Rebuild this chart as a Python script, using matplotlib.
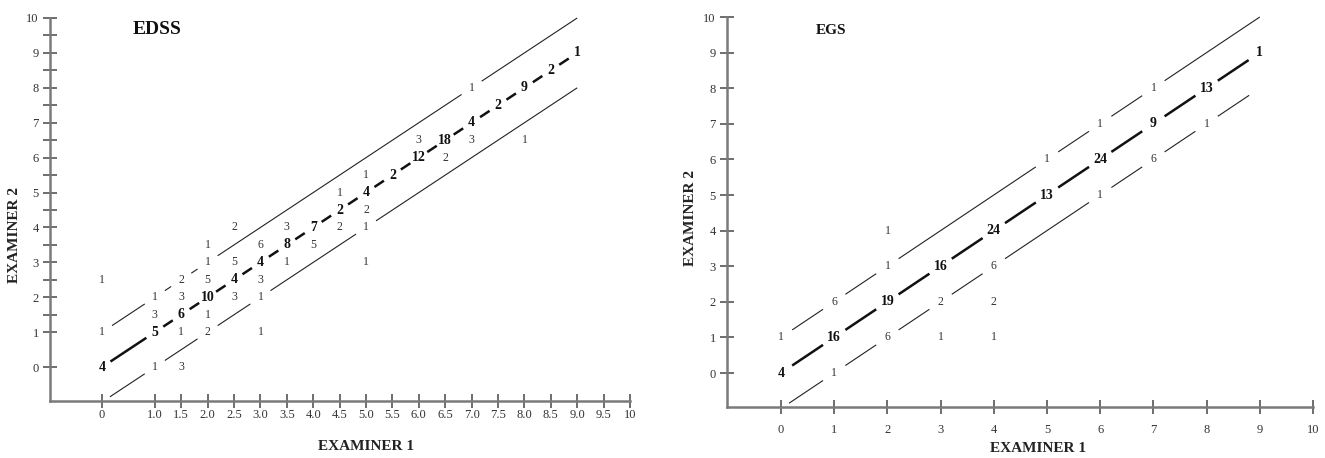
import matplotlib
matplotlib.use("Agg")
import matplotlib.pyplot as plt

plt.rcParams['font.family'] = ['Liberation Serif', 'DejaVu Serif']

# ---------------- data ----------------
# EDSS: (examiner 1 score, examiner 2 score, number of patients)
edss_x = [0, 0, 0,
          1, 1, 1, 1,
          1.5, 1.5, 1.5, 1.5, 1.5,
          2, 2, 2, 2, 2, 2,
          2.5, 2.5, 2.5, 2.5,
          3, 3, 3, 3, 3,
          3.5, 3.5, 3.5,
          4, 4,
          4.5, 4.5, 4.5,
          5, 5, 5, 5, 5,
          5.5,
          6, 6,
          6.5, 6.5,
          7, 7, 7,
          7.5,
          8, 8,
          8.5,
          9]
edss_y = [0, 1, 2.5,
          0, 1, 1.5, 2,
          0, 1, 1.5, 2, 2.5,
          1, 1.5, 2, 2.5, 3, 3.5,
          2, 2.5, 3, 4,
          1, 2, 2.5, 3, 3.5,
          3, 3.5, 4,
          3.5, 4,
          4, 4.5, 5,
          3, 4, 4.5, 5, 5.5,
          5.5,
          6, 6.5,
          6, 6.5,
          6.5, 7, 8,
          7.5,
          6.5, 8,
          8.5,
          9]
edss_n = [4, 1, 1,
          1, 5, 3, 1,
          3, 1, 6, 3, 2,
          2, 1, 10, 5, 1, 1,
          3, 4, 5, 2,
          1, 1, 3, 4, 6,
          1, 8, 3,
          5, 7,
          2, 2, 1,
          1, 1, 2, 4, 1,
          2,
          12, 3,
          2, 18,
          3, 4, 1,
          2,
          1, 9,
          2,
          1]

# EGS
egs_x = [0, 0,
         1, 1, 1,
         2, 2, 2, 2,
         3, 3, 3,
         4, 4, 4, 4,
         5, 5,
         6, 6, 6,
         7, 7, 7,
         8, 8,
         9]
egs_y = [0, 1,
         0, 1, 2,
         1, 2, 3, 4,
         1, 2, 3,
         1, 2, 3, 4,
         5, 6,
         5, 6, 7,
         6, 7, 8,
         7, 8,
         9]
egs_n = [4, 1,
         1, 16, 6,
         6, 19, 1, 1,
         1, 2, 16,
         1, 2, 6, 24,
         13, 1,
         1, 24, 1,
         6, 9, 1,
         1, 13,
         1]

edss_xticks = [0, 1.0, 1.5, 2.0, 2.5, 3.0, 3.5, 4.0, 4.5, 5.0, 5.5, 6.0, 6.5,
               7.0, 7.5, 8.0, 8.5, 9.0, 9.5, 10]
edss_xticklabels = ["0", "1.0", "1.5", "2.0", "2.5", "3.0", "3.5", "4.0", "4.5",
                    "5.0", "5.5", "6.0", "6.5", "7.0", "7.5", "8.0", "8.5",
                    "9.0", "9.5", "10"]
edss_yticks = list(range(0, 11))
edss_yminor = [1.5, 2.5, 3.5, 4.5, 5.5, 6.5, 7.5, 8.5, 9.5]
egs_xticks = list(range(0, 11))
egs_yticks = list(range(0, 11))

# ---------------- drawing ----------------
W, H, DPI = 1325, 458, 100
fig = plt.figure(figsize=(W / DPI, H / DPI), dpi=DPI)

SPINE = '#7a7a7a'
TICKC = '#555555'


def broken_line(ax, xs, ys, k, x0, x1, gap, lw, color):
    """Line y = x + k from x0 to x1, broken around labels lying on it."""
    on = sorted(x for x, y in zip(xs, ys)
                if abs((y - x) - k) < 1e-9 and x0 - gap < x < x1 + gap)
    segs = []
    a = x0
    for xi in on:
        b = xi - gap
        if b > a:
            segs.append((a, b))
        a = max(a, xi + gap)
    if x1 > a:
        segs.append((a, x1))
    for a, b in segs:
        ax.plot([a, b], [a + k, b + k], color=color, lw=lw,
                solid_capstyle='butt', clip_on=False, zorder=2)


def style_axes(ax, xlim, ylim, xticks, xlabels, yticks, yminor, xpad, ypad):
    ax.set_xlim(*xlim)
    ax.set_ylim(*ylim)
    for s in ('top', 'right'):
        ax.spines[s].set_visible(False)
    for s in ('left', 'bottom'):
        ax.spines[s].set_color(SPINE)
        ax.spines[s].set_linewidth(1.8)
    ax.set_xticks(xticks)
    ax.set_xticklabels(xlabels)
    ax.set_yticks(yticks)
    ax.set_yticklabels([str(t) for t in yticks])
    if yminor:
        ax.set_yticks(yminor, minor=True)
    ax.tick_params(axis='both', which='both', direction='inout', length=10,
                   width=1.2, color=TICKC, labelcolor='#333333', labelsize=9)
    ax.tick_params(axis='x', pad=xpad)
    ax.tick_params(axis='y', pad=ypad)
    ax.set_facecolor('none')


def labels(ax, xs, ys, ns, bold_size, reg_size):
    for x, y, n in zip(xs, ys, ns):
        if x == y:
            ax.text(x, y, str(n), ha='center', va='center', fontsize=bold_size,
                    fontweight='bold', color='#111111', zorder=3, clip_on=False)
        else:
            ax.text(x, y, str(n), ha='center', va='center', fontsize=reg_size,
                    color='#333333', zorder=3, clip_on=False)


# ---- EDSS ----
ax1 = fig.add_axes([50 / W, 1 - 401 / H, 580 / W, 383 / H])
style_axes(ax1, (-0.985, 10), (-0.97, 10), edss_xticks, edss_xticklabels,
           edss_yticks, edss_yminor, xpad=1, ypad=3)
broken_line(ax1, edss_x, edss_y, 1, 0.15, 9.0, 0.19, 0.8, '#222222')
broken_line(ax1, edss_x, edss_y, -1, 0.15, 9.0, 0.19, 0.8, '#222222')
broken_line(ax1, edss_x, edss_y, 0, 0.15, 9.0, 0.16, 1.8, '#111111')
labels(ax1, edss_x, edss_y, edss_n, 10, 8.5)
fig.text(157 / W, 1 - 29 / H, 'EDSS', ha='center', va='center', fontsize=14,
         fontweight='bold', color='#111111')
fig.text(14 / W, 1 - 235 / H, 'EXAMINER 2', ha='center', va='center',
         rotation=90, fontsize=11, fontweight='bold', color='#222222')
fig.text(366 / W, 1 - 447 / H, 'EXAMINER 1', ha='center', va='center',
         fontsize=11, fontweight='bold', color='#222222')

# ---- EGS ----
ax2 = fig.add_axes([727 / W, 1 - 407 / H, 586 / W, 390 / H])
style_axes(ax2, (-1.015, 10), (-0.955, 10), egs_xticks,
           [str(t) for t in egs_xticks], egs_yticks, None, xpad=7, ypad=3)
broken_line(ax2, egs_x, egs_y, 1, 0.15, 9.0, 0.21, 0.8, '#222222')
broken_line(ax2, egs_x, egs_y, -1, 0.15, 8.8, 0.21, 0.8, '#222222')
broken_line(ax2, egs_x, egs_y, 0, 0.15, 9.0, 0.21, 1.8, '#111111')
labels(ax2, egs_x, egs_y, egs_n, 10, 8.5)
fig.text(831 / W, 1 - 30 / H, 'EGS', ha='center', va='center', fontsize=11,
         fontweight='bold', color='#111111')
fig.text(691 / W, 1 - 218 / H, 'EXAMINER 2', ha='center', va='center',
         rotation=90, fontsize=11, fontweight='bold', color='#222222')
fig.text(1038 / W, 1 - 449 / H, 'EXAMINER 1', ha='center', va='center',
         fontsize=11, fontweight='bold', color='#222222')

fig.savefig('out.png', dpi=DPI, facecolor='white')
